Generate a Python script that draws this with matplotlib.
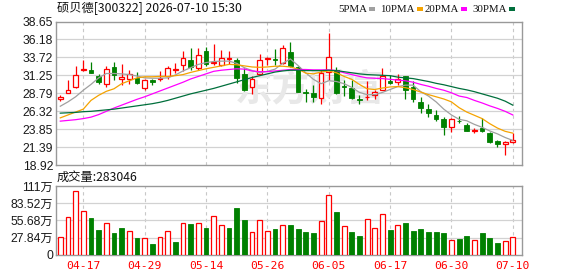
import matplotlib
matplotlib.use('Agg')
import matplotlib.pyplot as plt
from matplotlib.patches import Rectangle

W, H = 578, 276

# ---------------- data ----------------
open_ = [27.94, 28.80, 29.62, 31.93, 31.97, 31.11, 30.07, 32.42, 30.70, 30.80,
         30.89, 29.53, 30.66, 30.80, 31.11, 31.93, 32.70, 33.33, 32.24, 34.55,
         32.97, 32.70, 33.47, 33.33, 31.47, 29.62, 31.43, 33.51, 33.47, 32.92,
         34.42, 32.38, 28.94, 28.85, 28.08, 31.74, 32.02, 29.80, 29.53, 27.94,
         28.22, 28.53, 29.26, 30.52, 30.30, 31.11, 29.71, 27.63, 26.68, 25.77,
         25.18, 24.19, 25.00, 24.46, 23.62, 24.01, 23.37, 22.20, 21.75, 22.15]
close = [28.22, 29.17, 31.25, 32.06, 31.61, 30.34, 32.15, 31.25, 30.98, 31.38,
         30.25, 30.61, 30.30, 30.93, 32.20, 32.11, 33.60, 32.42, 34.10, 32.83,
         33.06, 33.69, 33.60, 30.89, 29.17, 30.80, 33.38, 33.69, 33.33, 35.05,
         32.47, 28.98, 28.80, 28.22, 31.56, 33.72, 28.76, 29.66, 28.17, 27.85,
         28.31, 28.98, 31.16, 30.16, 30.75, 29.17, 27.94, 26.72, 26.04, 25.23,
         24.14, 25.27, 24.91, 23.65, 23.70, 23.55, 22.06, 21.84, 22.15, 22.33]
high = [28.49, 30.57, 32.47, 33.33, 33.15, 31.47, 32.56, 33.06, 32.79, 31.97,
        31.75, 30.80, 30.75, 31.79, 32.56, 32.88, 34.60, 34.96, 34.96, 35.14,
        35.50, 34.69, 34.60, 33.60, 32.24, 31.11, 34.14, 33.78, 34.87, 35.41,
        35.77, 32.56, 29.39, 29.98, 31.93, 37.10, 32.33, 30.66, 30.61, 28.49,
        30.52, 29.17, 32.24, 31.34, 31.43, 31.11, 30.43, 28.26, 27.36, 26.45,
        25.46, 25.36, 25.68, 24.64, 23.96, 25.32, 23.46, 22.38, 22.20, 23.37]
low = [27.76, 28.76, 29.48, 31.79, 31.52, 30.07, 29.71, 30.61, 29.98, 30.07,
       30.07, 29.26, 29.89, 30.52, 30.75, 31.56, 31.79, 32.02, 32.02, 32.47,
       32.70, 32.47, 32.83, 30.21, 29.08, 28.62, 31.34, 32.61, 32.70, 32.79,
       32.33, 28.94, 27.63, 27.63, 27.36, 30.60, 28.67, 28.40, 27.94, 27.27,
       27.81, 27.94, 29.17, 30.07, 29.98, 27.99, 27.63, 26.13, 25.55, 24.91,
       23.01, 23.46, 24.73, 23.55, 23.28, 23.42, 21.93, 21.39, 20.30, 21.93]
prev_close_start = 27.50

volume_wan = [28.1, 60.5, 103.3, 70.3, 59.5, 40.0, 51.4, 35.1, 43.2, 37.8,
              27.0, 26.5, 17.3, 28.1, 37.8, 20.5, 51.4, 49.7, 51.4, 43.2,
              62.2, 47.6, 43.2, 75.7, 56.2, 36.8, 55.7, 38.4, 41.6, 47.6,
              48.1, 41.6, 37.3, 35.7, 54.6, 96.8, 69.2, 45.9, 37.3, 30.3,
              57.8, 43.2, 65.9, 40.0, 48.1, 51.9, 38.4, 41.6, 37.3, 37.3,
              35.7, 23.8, 25.4, 30.3, 23.8, 35.7, 27.0, 19.5, 22.2, 28.3]

ma5 = [27.0, 27.6, 28.3, 29.2, 30.0, 30.9, 31.5, 31.5, 31.45, 31.35,
       31.15, 30.9, 30.85, 30.85, 30.9, 31.3, 31.85, 32.3, 32.75, 33.0,
       33.15, 33.2, 33.2, 32.9, 32.3, 31.9, 31.6, 31.8, 32.1, 32.9,
       33.5, 32.6, 31.6, 30.7, 30.1, 30.5, 30.4, 30.1, 29.6, 28.9,
       28.6, 28.6, 28.9, 29.3, 29.7, 29.9, 29.9, 29.0, 28.4, 27.6,
       26.6, 25.8, 25.2, 25.0, 24.5, 24.1, 23.6, 23.2, 22.7, 22.3]
ma10 = [25.4, 25.8, 26.2, 26.6, 27.8, 28.5, 29.05, 29.4, 30.1, 30.5,
        30.9, 31.05, 31.05, 31.1, 31.1, 31.2, 31.35, 31.65, 31.9, 32.15,
        32.35, 32.55, 32.75, 32.7, 32.55, 32.4, 32.35, 32.4, 32.5, 32.5,
        32.4, 32.1, 31.55, 31.45, 31.7, 31.85, 31.6, 31.1, 30.7, 30.0,
        29.4, 29.3, 29.5, 29.65, 29.7, 29.55, 29.3, 28.95, 28.6, 28.3,
        28.0, 27.6, 26.8, 26.2, 25.75, 25.3, 24.6, 24.0, 23.55, 23.3]
ma20 = [24.95, 25.05, 25.15, 25.3, 25.5, 25.85, 26.3, 26.75, 27.15, 27.55,
        27.95, 28.3, 28.7, 29.1, 29.5, 29.9, 30.3, 30.75, 31.1, 31.45,
        31.8, 31.95, 32.05, 32.15, 32.1, 31.85, 31.75, 31.75, 31.85, 31.95,
        32.05, 32.05, 32.05, 32.0, 32.0, 32.0, 31.9, 31.6, 31.35, 31.1,
        30.9, 30.85, 30.8, 30.7, 30.6, 30.5, 30.3, 30.0, 29.75, 29.45,
        29.2, 28.85, 28.4, 28.2, 27.8, 27.45, 27.05, 26.7, 26.3, 25.8]
ma30 = [26.05, 26.1, 26.15, 26.25, 26.3, 26.4, 26.5, 26.6, 26.75, 26.9,
        27.05, 27.2, 27.35, 27.55, 27.8, 28.1, 28.4, 28.7, 28.95, 29.2,
        29.45, 29.75, 30.05, 30.35, 30.65, 30.95, 31.2, 31.45, 31.7, 31.85,
        31.95, 31.95, 31.9, 31.9, 31.9, 31.95, 31.9, 31.75, 31.6, 31.45,
        31.35, 31.3, 31.25, 31.2, 31.0, 30.9, 30.8, 30.6, 30.4, 30.15,
        29.95, 29.7, 29.45, 29.25, 29.0, 28.7, 28.4, 28.1, 27.7, 27.15]

date_labels = ['04-17', '04-29', '05-14', '05-26', '06-05', '06-17', '06-30', '07-10']
date_idx = [3, 11, 19, 27, 35, 43, 51, 59]
price_ticks = [18.92, 21.39, 23.85, 26.32, 28.79, 31.25, 33.72, 36.18, 38.65]
price_tick_labels = ['18.92', '21.39', '23.85', '26.32', '28.79', '31.25', '33.72', '36.18', '38.65']
vol_ticks = [0, 27.84, 55.68, 83.52, 111.36]
vol_tick_labels = ['0', '27.84万', '55.68万', '83.52万', '111万']
ma_names = ['5PMA', '10PMA', '20PMA', '30PMA']

title_text = '硕贝德[300322] 2026-07-10 15:30'
vol_title = '成交量:283046'

# ---------------- style ----------------
RED = '#ff0000'
GREEN = '#008000'
MA_COLORS = ['#a0a0a0', '#f5a300', '#ff00ff', '#006f3c']
GRID = '#d2d2d2'
SPINE = '#999999'
CJK = ['Liberation Sans', 'Noto Sans CJK SC', 'DejaVu Sans']

fig = plt.figure(figsize=(W / 100, H / 100), dpi=100)
fig.patch.set_facecolor('white')


def fx(x):
    return x / W


def fy(y):
    return 1 - y / H


L, R = 56, 522
ax = fig.add_axes([fx(L), fy(165), fx(R) - fx(L), fy(21.5) - fy(165)])
axv = fig.add_axes([fx(L), fy(254.7), fx(R) - fx(L), fy(186) - fy(254.7)])

n = len(close)
xs = list(range(n))
xlim = (-0.56, 60.2)

for a in (ax, axv):
    a.set_xlim(*xlim)
    a.set_facecolor('white')
    for s in a.spines.values():
        s.set_color(SPINE)
        s.set_linewidth(1.0)
    for i in date_idx:
        a.axvline(i, color='#c8c8c8', lw=0.8, ls=(0, (3, 3)), zorder=0)
    a.tick_params(axis='both', length=0, pad=2)
    a.set_xticks([])

# price axis
ax.set_ylim(price_ticks[0], price_ticks[-1])
ax.set_yticks(price_ticks)
ax.set_yticklabels(price_tick_labels, fontsize=8.7, color='#1a1a1a', family='Liberation Sans')
for t in price_ticks[1:-1]:
    ax.axhline(t, color=GRID, lw=0.9, zorder=0)

# watermark
ax.text(0.545, 0.525, '东方财富', transform=ax.transAxes, ha='center', va='center',
        fontsize=27, color='#e8e8e8', family=['Noto Sans CJK SC'], fontweight='bold',
        zorder=0.5)

bw = 0.62
for i in xs:
    o, c, h, l = open_[i], close[i], high[i], low[i]
    top, bot = max(o, c), min(o, c)
    if c >= o:
        ax.plot([i, i], [top, h], color=RED, lw=0.9, zorder=3, solid_capstyle='butt')
        ax.plot([i, i], [l, bot], color=RED, lw=0.9, zorder=3, solid_capstyle='butt')
        ax.add_patch(Rectangle((i - bw / 2, bot), bw, max(top - bot, 0.001),
                               facecolor='white', edgecolor=RED, lw=0.9, zorder=4))
    else:
        ax.plot([i, i], [l, h], color=GREEN, lw=0.9, zorder=3, solid_capstyle='butt')
        ax.add_patch(Rectangle((i - bw / 2, bot), bw, top - bot,
                               facecolor=GREEN, edgecolor=GREEN, lw=0.6, zorder=4))

for ma, col in zip([ma5, ma10, ma20, ma30], MA_COLORS):
    ax.plot(xs, ma, color=col, lw=0.9, zorder=5)

# volume axis
axv.set_ylim(vol_ticks[0], vol_ticks[-1])
axv.set_yticks(vol_ticks)
axv.set_yticklabels(vol_tick_labels, fontsize=8.7, color='#1a1a1a', family=CJK)
for t in vol_ticks[1:-1]:
    axv.axhline(t, color=GRID, lw=0.9, zorder=0)

vbw = 0.64
prev = prev_close_start
for i in xs:
    up = close[i] >= prev
    prev = close[i]
    if up:
        axv.add_patch(Rectangle((i - vbw / 2, 0), vbw, volume_wan[i],
                                facecolor='white', edgecolor=RED, lw=0.9, zorder=3))
    else:
        axv.add_patch(Rectangle((i - vbw / 2, 0), vbw, volume_wan[i],
                                facecolor=GREEN, edgecolor=GREEN, lw=0.6, zorder=3))

# date labels
for i, lab in zip(date_idx, date_labels):
    axv.text(i, -0.09, lab, transform=axv.get_xaxis_transform(), ha='center', va='top',
             fontsize=8.2, color=RED, family='DejaVu Sans Mono')

# texts
fig.text(fx(57), fy(9), title_text, ha='left', va='center', fontsize=8.8,
         color='#111111', family=['Noto Sans CJK SC', 'DejaVu Sans'])
fig.text(fx(57), fy(177), vol_title, ha='left', va='center', fontsize=8.8,
         color='#111111', family=['Noto Sans CJK SC', 'DejaVu Sans'])

# legend: text, then a small coloured bar right after it
leg_x = [338, 380, 425, 472]
renderer = fig.canvas.get_renderer()
for name, x0, col in zip(ma_names, leg_x, MA_COLORS):
    t = fig.text(fx(x0), fy(9), name, ha='left', va='center', fontsize=7.8,
                 color='#111111', family='Liberation Serif')
    bb = t.get_window_extent(renderer=renderer)
    sx = bb.x1 + 2
    fig.patches.append(Rectangle((sx / W, fy(10.5)), 6 / W, 4 / H,
                                 transform=fig.transFigure, facecolor=col,
                                 edgecolor='none'))

fig.savefig('out.png', dpi=100, facecolor='white')
